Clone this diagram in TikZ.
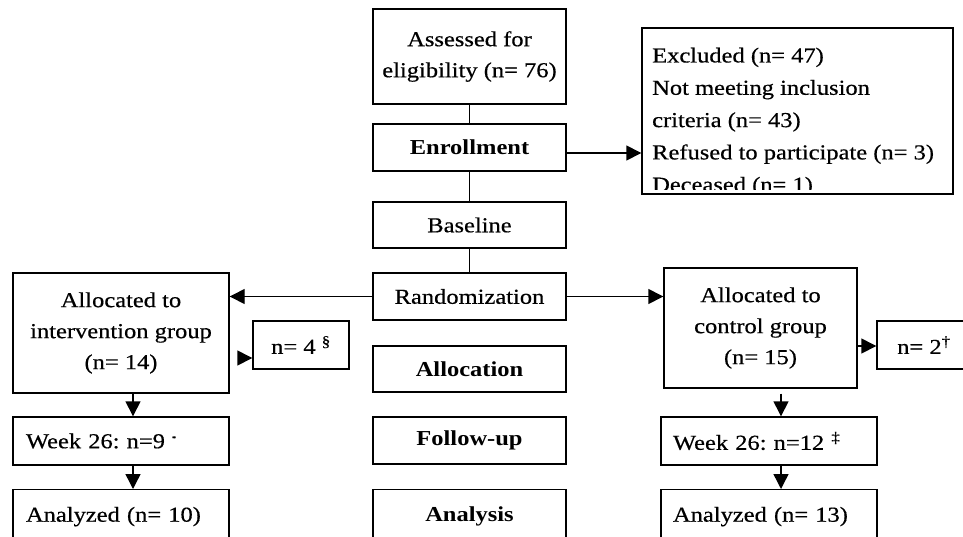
\documentclass[tikz,border=0pt]{standalone}
\usepackage{fontspec}
\setmainfont{Liberation Serif}[FakeStretch=1.15, UprightFeatures={FakeBold=0.5}]
\usetikzlibrary{arrows.meta}
\newcommand{\flowfont}{\fontsize{21.3}{31}\selectfont}
\tikzstyle{box}=[draw, line width=1.4pt, minimum width=193pt, minimum height=47pt, inner sep=0pt, font=\flowfont]
\tikzstyle{stage}=[box, font=\flowfont\bfseries]
\tikzstyle{cutbox}=[minimum height=60pt, anchor=north, text height=14pt, text depth=10pt]
\tikzstyle{link}=[draw, line width=1.4pt]
\tikzstyle{arr}=[link, -{Triangle[length=15pt,width=15pt]}]

\begin{document}
\frenchspacing
\begin{tikzpicture}[x=1pt,y=1pt]
            \useasboundingbox (0,0) rectangle (963,-536);
            \clip (0,0) rectangle (963,-536);
            % middle column
            \node [box, minimum height=95pt, align=center] (assess) at (469.5,-56.5) {Assessed for\\eligibility (n= 76)};
            \node [stage, below of=assess, node distance=91pt] (enroll) {Enrollment};
            \node [box, below of=enroll, node distance=77.5pt, minimum height=46pt] (base) {Baseline};
            \node [box, below of=base, node distance=71.5pt] (random) {Randomization};
            \node [stage, below of=random, node distance=72.5pt, minimum height=46pt] (alloc) {Allocation};
            \node [stage, below of=alloc, node distance=71.5pt] (follow) {Follow-up};
            \node [stage, cutbox] (analysis) at (469.5,-489) {Analysis};
            % excluded
            \node [box, minimum width=311pt, minimum height=166pt] (excl) at (797.5,-111) {};
            \begin{scope}
                \clip ([shift={(1,5)}]excl.south west) rectangle (excl.north east);
                \node [anchor=north west, align=left, inner sep=0pt, font=\fontsize{21.3}{32.3}\selectfont] (excltext) at (652,-47.5) {Excluded (n= 47)\\Not meeting inclusion\\criteria (n= 43)\\Refused to participate (n= 3)\\Deceased (n= 1)};
            \end{scope}
            % intervention arm
            \node [box, minimum width=216pt, minimum height=120pt, align=center] (intv) at (121,-333) {Allocated to\\intervention group\\(n= 14)};
            \node [box, minimum width=96pt, minimum height=48pt] (nint) at (301,-345) {n= 4 \textsuperscript{§}};
            \node [box, minimum width=216pt, minimum height=48pt, text width=190pt] (wkint) at (121,-441) {Week 26: n=9 \textsuperscript{\scriptsize *}};
            \node [box, cutbox, minimum width=216pt, text width=190pt] (anint) at (121,-489) {Analyzed (n= 10)};
            % control arm
            \node [box, minimum height=120pt, align=center] (ctrl) at (760.5,-328) {Allocated to\\control group\\(n= 15)};
            \node [box, minimum width=94pt, minimum height=48pt] (nctrl) at (924,-345) {n= 2\textsuperscript{†}};
            \node [box, minimum width=216pt, minimum height=48pt, text width=192pt] (wkctrl) at (769,-441) {Week 26: n=12 \textsuperscript{‡}};
            \node [box, cutbox, minimum width=216pt, text width=192pt] (anctrl) at (769,-489) {Analyzed (n= 13)};
            % helper points
            \coordinate (e1) at ([yshift=-5.5pt]enroll.east);
            \coordinate (i1) at ([xshift=11pt,yshift=-25pt]intv.east);
            \coordinate (i2) at ([xshift=12pt]intv.south);
            \coordinate (i3) at ([xshift=12pt]wkint.south);
            \coordinate (c1) at ([yshift=-18pt]ctrl.east);
            \coordinate (c2) at ([xshift=20.5pt,yshift=-5pt]ctrl.south);
            \coordinate (c3) at ([xshift=12pt]wkctrl.south);
            \path (assess) edge[link] (enroll);
            \path (enroll) edge[link] (base);
            \path (base) edge[link] (random);
            \path (e1) edge[arr] (e1 -| excl.west);
            \path (random) edge[arr] (random -| intv.east);
            \path (random) edge[arr] (random -| ctrl.west);
            \path (i1) edge[arr] (i1 -| nint.west);
            \path (i2) edge[arr] (i2 |- wkint.north);
            \path (i3) edge[arr] (i3 |- anint.north);
            \path (c1) edge[arr] (c1 -| nctrl.west);
            \path (c2) edge[arr] (c2 |- wkctrl.north);
            \path (c3) edge[arr] (c3 |- anctrl.north);
        \end{tikzpicture}
\end{document}
